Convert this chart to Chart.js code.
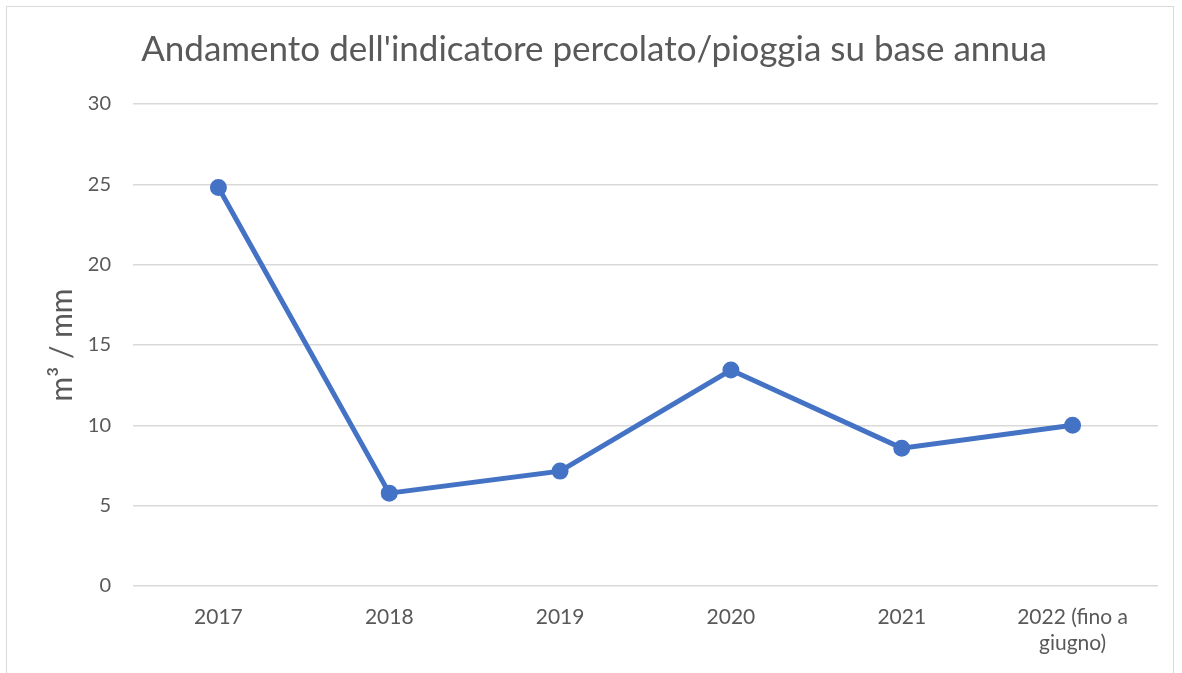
<!DOCTYPE html>
<html>
<head>
<meta charset="utf-8">
<script src="https://cdn.jsdelivr.net/npm/chart.js@4.4.1/dist/chart.umd.min.js"></script>
<style>
  html, body { margin: 0; padding: 0; background: #fff; }
  #wrap { position: relative; width: 1182px; height: 673px; }
  #frame { position: absolute; left: 6px; top: 6px; width: 1168px; height: 700px; border: 1px solid #d9d9d9; box-sizing: border-box; }
  canvas { position: absolute; left: 0; top: 0; }
</style>
</head>
<body>
<div id="wrap">
  <div id="frame"></div>
  <canvas id="chart" width="1182" height="673"></canvas>
</div>
<script>
// chart data
const years = ['2017', '2018', '2019', '2020', '2021', ['2022 (fino a', 'giugno)']];
const ratio = [24.8, 5.78, 7.15, 13.44, 8.58, 10.01];
const yTicks = [0, 5, 10, 15, 20, 25, 30];

const FONT = "Lato, 'Open Sans', sans-serif";
const GREY = '#595959';

new Chart(document.getElementById('chart'), {
    type: 'line',
    data: {
        labels: years,
        datasets: [{
            label: 'percolato/pioggia',
            data: ratio,
            borderColor: '#4472C4',
            backgroundColor: '#4472C4',
            borderWidth: 5,
            pointRadius: 6,
            pointHoverRadius: 6,
            tension: 0
        }]
    },
    options: {
        responsive: false,
        animation: false,
        layout: { padding: { left: 30, right: 24, top: 0, bottom: 0 } },
        plugins: {
            legend: { display: false },
            tooltip: { enabled: false },
            title: {
                display: true,
                text: "Andamento dell'indicatore percolato/pioggia su base annua",
                color: GREY,
                font: { family: FONT, size: 35, weight: 'normal' },
                padding: { top: 29, bottom: 33 }
            }
        },
        scales: {
            x: {
                offset: true,
                grid: { display: false },
                border: { display: false },
                ticks: { color: GREY, font: { family: FONT, size: 21 }, padding: 11, maxRotation: 0 },
                afterFit: (s) => { s.height = 673 - 586; }
            },
            y: {
                min: 0,
                max: 30,
                afterBuildTicks: (s) => { s.ticks = yTicks.map(v => ({ value: v })); },
                grid: { color: '#d9d9d9', lineWidth: 1.5, drawTicks: false },
                border: { display: false },
                ticks: { color: GREY, font: { family: FONT, size: 20 }, padding: 22 },
                title: {
                    display: true,
                    text: 'm³ / mm',
                    color: GREY,
                    font: { family: FONT, size: 30, weight: 'normal' },
                    padding: { top: 14, bottom: 0 }
                },
                afterFit: (s) => { s.width = 133 - 30; }
            }
        }
    }
});
</script>
</body>
</html>
